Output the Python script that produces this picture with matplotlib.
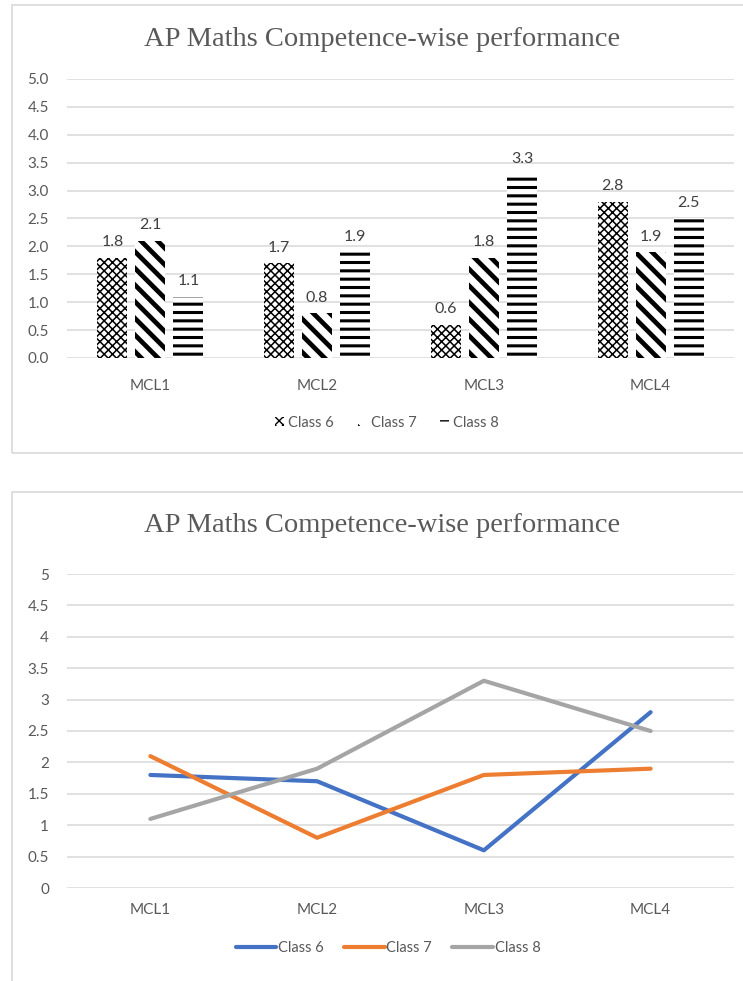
import numpy as np
import matplotlib
matplotlib.use("Agg")
import matplotlib.pyplot as plt
from matplotlib.patches import Rectangle, Patch

#-----------------------------------#
competences = ["MCL1", "MCL2", "MCL3", "MCL4"]
series_names = ["Class 6", "Class 7", "Class 8"]
class6 = [1.8, 1.7, 0.6, 2.8]
class7 = [2.1, 0.8, 1.8, 1.9]
class8 = [1.1, 1.9, 3.3, 2.5]
bar_ticks = ["0.0", "0.5", "1.0", "1.5", "2.0", "2.5", "3.0", "3.5", "4.0", "4.5", "5.0"]
line_ticks = ["0", "0.5", "1", "1.5", "2", "2.5", "3", "3.5", "4", "4.5", "5"]
title = "AP Maths Competence-wise performance"
#-----------------------------------#

W, H = 743, 981
TXT = "#595959"
GRID = "#d9d9d9"
sans = ["Lato", "DejaVu Sans"]
serif = ["Liberation Serif", "DejaVu Serif"]

fig = plt.figure(figsize=(W / 100, H / 100), dpi=100)


def px_axes(left, top, right, bottom):
    """axes placed by pixel edges (origin top-left)"""
    return fig.add_axes([left / W, 1 - bottom / H, (right - left) / W, (bottom - top) / H])


def px_box(x0, y0, x1, y1):
    fig.add_artist(Rectangle((x0 / W, 1 - y1 / H), (x1 - x0) / W, (y1 - y0) / H,
                             transform=fig.transFigure, fill=False,
                             edgecolor=GRID, linewidth=1.2))


def style_axes(ax, ticklabels, xpad, ypad):
    ax.set_ylim(0, 5)
    ax.set_xlim(-0.5, len(competences) - 0.5)
    ax.set_yticks(np.arange(0, 5.01, 0.5))
    ax.set_yticklabels(ticklabels, family=sans, fontsize=11, color=TXT)
    ax.set_xticks(np.arange(len(competences)))
    ax.set_xticklabels(competences, family=sans, fontsize=11, color=TXT)
    ax.tick_params(axis="both", length=0)
    ax.tick_params(axis="y", pad=ypad)
    ax.tick_params(axis="x", pad=xpad)
    ax.grid(axis="y", color=GRID, linewidth=1.1)
    ax.set_axisbelow(True)
    for s in ax.spines.values():
        s.set_visible(False)


# chart frames
px_box(12, 5, 760, 453)
px_box(12, 492, 760, 1000)

# ---------------- clustered bars with pattern fills ----------------
ax1 = px_axes(67, 79, 734, 358)
style_axes(ax1, bar_ticks, xpad=15, ypad=13)

x = np.arange(len(competences))
width = 0.18
step = 0.228
hatches = ["xxxx", "\\\\", "--"]
hatch_lw = [1.1, 3.4, 2.2]
handles = []
for i, (vals, name) in enumerate(zip([class6, class7, class8], series_names)):
    with plt.rc_context({"hatch.linewidth": hatch_lw[i]}):
        bars = ax1.bar(x + (i - 1) * step, vals, width, color="white",
                       edgecolor="black", linewidth=0, hatch=hatches[i], label=name)
        for b in bars:
            if hasattr(b, "set_hatch_linewidth"):
                b.set_hatch_linewidth(hatch_lw[i])
        handles.append(Patch(facecolor="white", edgecolor="black", linewidth=0,
                             hatch=hatches[i], label=name))
        if hasattr(handles[-1], "set_hatch_linewidth"):
            handles[-1].set_hatch_linewidth(min(hatch_lw[i], 2.0))
    for b, v in zip(bars, vals):
        ax1.annotate(f"{v:.1f}", (b.get_x() + b.get_width() / 2, v),
                     xytext=(0, 6), textcoords="offset points", ha="center", va="bottom",
                     family=sans, fontsize=11.5, color="#404040")

ax1.legend(handles=handles, loc="center", bbox_to_anchor=(387 / W, 1 - 423 / H),
           bbox_transform=fig.transFigure, ncol=3, frameon=False,
           handlelength=0.6, handleheight=0.6, handletextpad=0.3, columnspacing=1.6,
           prop={"family": sans, "size": 10.5}, labelcolor=TXT)

fig.text(382 / W, 1 - 40 / H, title, ha="center", va="center",
         family=serif, fontsize=20.5, color=TXT)

# ---------------- line version ----------------
ax2 = px_axes(67, 574, 734, 888)
style_axes(ax2, line_ticks, xpad=11, ypad=13)

colors = ["#4472c4", "#ed7d31", "#a5a5a5"]
for vals, name, c in zip([class6, class7, class8], series_names, colors):
    ax2.plot(x, vals, color=c, linewidth=3.0, label=name, solid_capstyle="round")

ax2.legend(loc="center", bbox_to_anchor=(388 / W, 1 - 948 / H),
           bbox_transform=fig.transFigure, ncol=3, frameon=False,
           handlelength=2.8, handletextpad=0.1, columnspacing=1.4,
           prop={"family": sans, "size": 10.5}, labelcolor=TXT)

fig.text(382 / W, 1 - 525 / H, title, ha="center", va="center",
         family=serif, fontsize=20.5, color=TXT)

fig.savefig("out.png", dpi=100)
